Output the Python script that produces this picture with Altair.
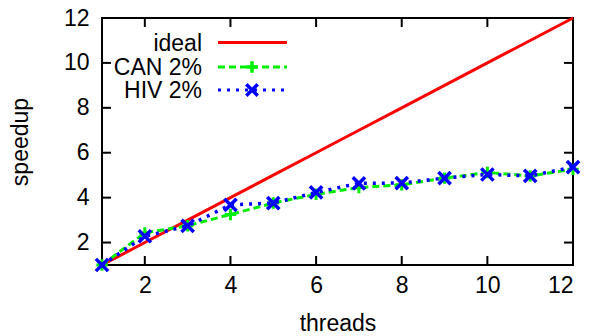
import altair as alt
import pandas as pd

threads = [1, 2, 3, 4, 5, 6, 7, 8, 9, 10, 11, 12]
ideal = [1, 2, 3, 4, 5, 6, 7, 8, 9, 10, 11, 12]
can2 = [1.0, 2.43, 2.75, 3.25, 3.76, 4.15, 4.45, 4.57, 4.87, 5.12, 4.97, 5.26]
hiv2 = [1.0, 2.28, 2.74, 3.68, 3.76, 4.23, 4.64, 4.65, 4.87, 5.03, 4.97, 5.36]
series = ["ideal", "CAN 2%", "HIV 2%"]
colors = ["#ff0000", "#00ee00", "#0000ff"]
x_ticks = [2, 4, 6, 8, 10, 12]
y_ticks = [2, 4, 6, 8, 10, 12]

W, H = 471, 247
FONT = "Liberation Sans"
FS = 23
TICK = 9

df_ideal = pd.DataFrame({"threads": threads, "speedup": ideal})
df_can = pd.DataFrame({"threads": threads, "speedup": can2})
df_hiv = pd.DataFrame({"threads": threads, "speedup": hiv2})
df_xt = pd.DataFrame({"t": x_ticks})
df_yt = pd.DataFrame({"t": y_ticks})
df_one = pd.DataFrame({"k": [0]})

xs = alt.Scale(domain=[1, 12], nice=False)
ys = alt.Scale(domain=[1, 12], nice=False)

PLUS = "M-1,0H1M0,-1V1"
CROSS = "M-1,-1L1,1M-1,1L1,-1"

main_x = alt.Axis(values=x_ticks, ticks=False, grid=False, domain=False,
                  labelFontSize=FS, labelFont=FONT, labelColor="black", labelPadding=9,
                  title="threads", titleFontSize=FS, titleFont=FONT, titleFontWeight="normal",
                  titleColor="black", titlePadding=15)
main_y = alt.Axis(values=y_ticks, ticks=False, grid=False, domain=False,
                  labelFontSize=FS, labelFont=FONT, labelColor="black", labelPadding=13,
                  title="speedup", titleFontSize=FS, titleFont=FONT, titleFontWeight="normal",
                  titleColor="black", titlePadding=31)

X = lambda: alt.X("threads:Q", scale=xs, axis=main_x)
Y = lambda: alt.Y("speedup:Q", scale=ys, axis=main_y)

# frame as four filled bars, ticks as filled tick marks
fk = dict(color="#000000", opacity=1)
f_top = alt.Chart(df_one).mark_rect(**fk).encode(
    x=alt.value(-1), x2=alt.value(W + 1), y=alt.value(-1), y2=alt.value(1))
f_bot = alt.Chart(df_one).mark_rect(**fk).encode(
    x=alt.value(-1), x2=alt.value(W + 1), y=alt.value(H - 1), y2=alt.value(H + 1))
f_left = alt.Chart(df_one).mark_rect(**fk).encode(
    x=alt.value(-1), x2=alt.value(1), y=alt.value(-1), y2=alt.value(H + 1))
f_right = alt.Chart(df_one).mark_rect(**fk).encode(
    x=alt.value(W - 1), x2=alt.value(W + 1), y=alt.value(-1), y2=alt.value(H + 1))

tick_kw = dict(thickness=2, size=TICK, color="#000000", opacity=1)
t_bottom = alt.Chart(df_xt).mark_tick(orient="vertical", **tick_kw).encode(
    x=alt.X("t:Q", scale=xs), y=alt.value(H - TICK / 2))
t_top = alt.Chart(df_xt).mark_tick(orient="vertical", **tick_kw).encode(
    x=alt.X("t:Q", scale=xs), y=alt.value(TICK / 2))
t_left = alt.Chart(df_yt).mark_tick(orient="horizontal", **tick_kw).encode(
    y=alt.Y("t:Q", scale=ys), x=alt.value(TICK / 2))
t_right = alt.Chart(df_yt).mark_tick(orient="horizontal", **tick_kw).encode(
    y=alt.Y("t:Q", scale=ys), x=alt.value(W - TICK / 2))

l_ideal = alt.Chart(df_ideal).mark_line(color=colors[0], strokeWidth=3).encode(x=X(), y=Y())
l_can = alt.Chart(df_can).mark_line(color=colors[1], strokeWidth=3, strokeDash=[7, 4]).encode(x=X(), y=Y())
p_can = alt.Chart(df_can).mark_point(shape=PLUS, color=colors[1], filled=False,
                                     strokeWidth=3, size=130, opacity=1).encode(x=X(), y=Y())
l_hiv = alt.Chart(df_hiv).mark_line(color=colors[2], strokeWidth=3.5, strokeDash=[3, 6]).encode(x=X(), y=Y())
p_hiv = alt.Chart(df_hiv).mark_point(shape=CROSS, color=colors[2], filled=False,
                                     strokeWidth=3.5, size=150, opacity=1).encode(x=X(), y=Y())

# legend (inside plot, top-left)
leg_rows = [24.5, 49, 72]
leg_layers = []
dashes = [None, [7, 4], [3, 6]]
marks = [None, PLUS, CROSS]
for i, name in enumerate(series):
    d = pd.DataFrame({"name": [name]})
    leg_layers.append(alt.Chart(d).mark_text(align="right", baseline="middle", fontSize=FS,
                                             font=FONT, color="black").encode(
        text="name:N", x=alt.value(100), y=alt.value(leg_rows[i] + 1)))
    kw = dict(color=colors[i], strokeWidth=3)
    if dashes[i]:
        kw["strokeDash"] = dashes[i]
    leg_layers.append(alt.Chart(d).mark_rule(**kw).encode(
        x=alt.value(116), x2=alt.value(185), y=alt.value(leg_rows[i])))
    if marks[i]:
        leg_layers.append(alt.Chart(d).mark_point(shape=marks[i], color=colors[i], filled=False,
                                                  strokeWidth=3.5, size=130, opacity=1).encode(
            x=alt.value(150), y=alt.value(leg_rows[i])))

chart = alt.layer(f_top, f_bot, f_left, f_right, t_bottom, t_top, t_left, t_right,
                  l_ideal, l_can, p_can, l_hiv, p_hiv,
                  *leg_layers).properties(
    width=W, height=H,
    background="white",
    autosize=alt.AutoSizeParams(type="none"),
    padding={"left": 94, "top": 10, "right": 10, "bottom": 71},
).configure_view(stroke="black", strokeWidth=2)

chart.save("out.html", embed_options={"renderer": "svg", "actions": False})
